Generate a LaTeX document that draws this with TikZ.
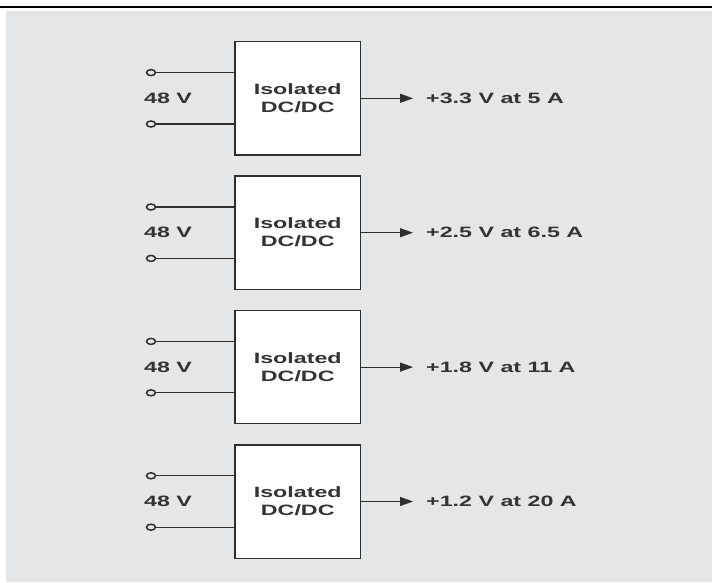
\documentclass[tikz,border=0pt]{standalone}
\usepackage{fontspec}
\setmainfont{Liberation Sans}
\usepackage{graphicx}
\usetikzlibrary{arrows.meta,shapes.geometric}
\definecolor{bggray}{HTML}{E5E6E8}
\definecolor{ink}{HTML}{2E2E2E}
\definecolor{txt}{HTML}{333333}
\newcommand{\sx}[1]{\scalebox{1.55}[1]{#1}}
\tikzset{
  conv/.style={draw=ink, fill=white, line width=1.3pt, minimum width=125.5pt, minimum height=113.3pt, inner sep=0pt,
    align=center, text=txt, font=\fontsize{15pt}{18pt}\selectfont\bfseries},
  term/.style={ellipse, draw=ink, line width=1.5pt, minimum width=9pt, minimum height=6pt, inner sep=0pt},
  wire/.style={draw=ink, line width=1.2pt},
  outarrow/.style={draw=ink, line width=1.2pt, -{Triangle[length=13pt,width=9pt]}},
  lab/.style={text=txt, font=\fontsize{15pt}{18pt}\selectfont\bfseries, inner sep=0pt}
}
\begin{document}
\begin{tikzpicture}[x=1pt,y=-1pt]
\useasboundingbox (0,0) rectangle (712,582);
\fill[bggray] (6,11) rectangle (712,582);
\draw[line width=1.5pt, black] (0,7) -- (712,7);
\foreach \i/\out in {0/{+3.3 V at 5 A},1/{+2.5 V at 6.5 A},2/{+1.8 V at 11 A},3/{+1.2 V at 20 A}}{
  \pgfmathsetmacro{\cy}{98.3+134.4*\i}
  \node[conv] (box\i) at (297.75,\cy) {\sx{Isolated}\\\sx{DC/DC}};
  \node[term] (ta\i) at (151,\cy-25.7) {};
  \node[term] (tb\i) at (151,\cy+25.7) {};
  \draw[wire] (ta\i.east) -- (ta\i.east -| box\i.west);
  \draw[wire] (tb\i.east) -- (tb\i.east -| box\i.west);
  \node[lab, anchor=west] (vin\i) at (144,\cy) {\sx{48 V}};
  \coordinate (tip\i) at (413,\cy);
  \draw[outarrow] (box\i.east) -- (tip\i);
  \node[lab, anchor=west] (out\i) at (426,\cy) {\sx{\out}};
}
\end{tikzpicture}
\end{document}
